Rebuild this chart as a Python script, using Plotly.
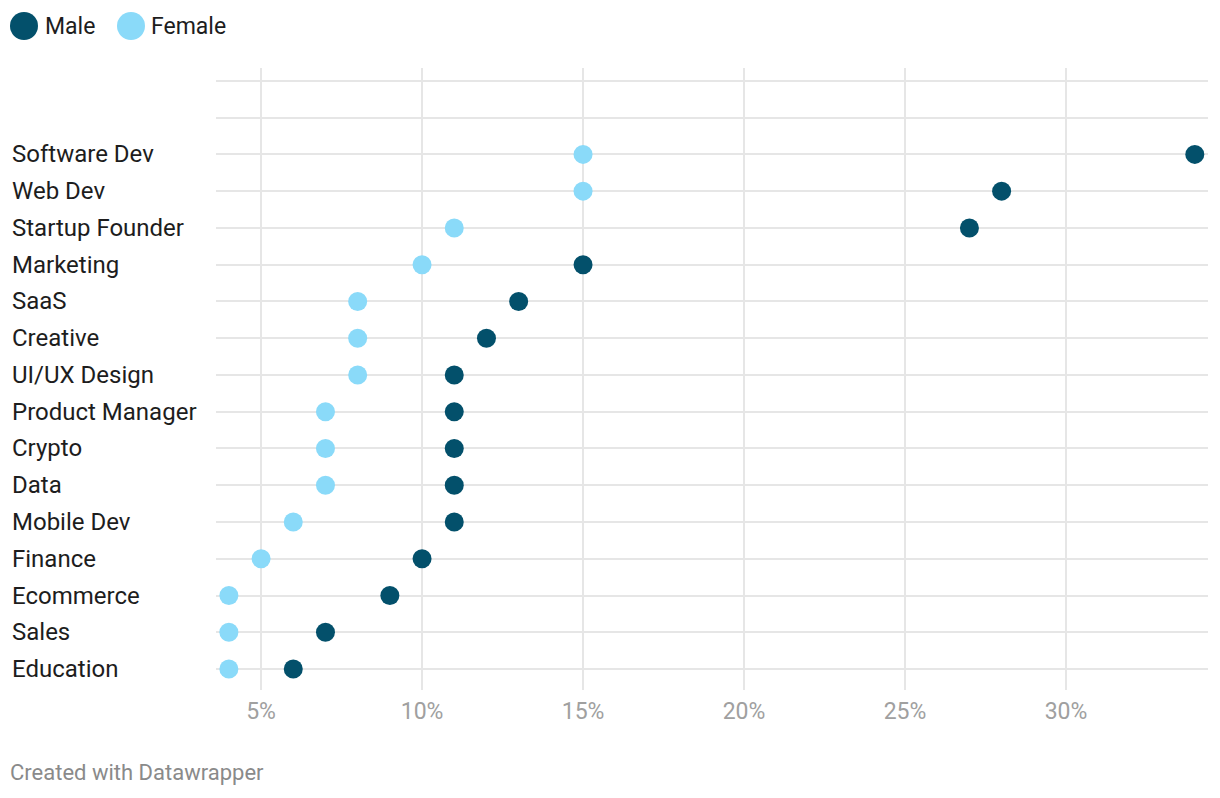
import plotly.graph_objects as go

categories = ["Software Dev", "Web Dev", "Startup Founder", "Marketing", "SaaS", "Creative",
              "UI/UX Design", "Product Manager", "Crypto", "Data", "Mobile Dev", "Finance",
              "Ecommerce", "Sales", "Education"]
male = [34, 28, 27, 15, 13, 12, 11, 11, 11, 11, 11, 10, 9, 7, 6]
female = [15, 15, 11, 10, 8, 8, 8, 7, 7, 7, 6, 5, 4, 4, 4]
x_ticks = [5, 10, 15, 20, 25, 30]
x_tick_labels = ["5%", "10%", "15%", "20%", "25%", "30%"]
series_names = ["Male", "Female"]

MALE_COLOR = "#03506b"
FEMALE_COLOR = "#8adaf9"
FONT = "Roboto"

n = len(categories)
ypos = [n - 1 - i for i in range(n)]
blank_rows = 2

OFF = 8  # page body margin
W, H = 1212, 790
m_l, m_r, m_t, m_b = 208, 12, 60, 108
pw = W - m_l - m_r
ph = H - m_t - m_b
plot_bottom_page = OFF + H - m_b


def px_to_paper_x(px):
    return (px - OFF - m_l) / pw


def py_to_paper_y(py):
    return (plot_bottom_page - py) / ph


fig = go.Figure()
fig.add_trace(go.Scatter(
    x=female, y=ypos, mode="markers", name="Female",
    marker=dict(size=19, color=FEMALE_COLOR, line=dict(width=0)),
    hovertemplate="%{text}: %{x}%<extra>Female</extra>", text=categories,
))
fig.add_trace(go.Scatter(
    x=male, y=ypos, mode="markers", name="Male",
    marker=dict(size=19, color=MALE_COLOR, line=dict(width=0)),
    hovertemplate="%{text}: %{x}%<extra>Male</extra>", text=categories,
))

for cat, yv in zip(categories, ypos):
    fig.add_annotation(
        x=px_to_paper_x(10), xref="paper", y=yv, yref="y",
        text=cat, showarrow=False, xanchor="left", yanchor="middle",
        font=dict(family=FONT, size=24, color="#1d1d1d"),
    )

# legend (custom, to match large circle swatches)
legend_items = [(series_names[0], MALE_COLOR, 10, 45), (series_names[1], FEMALE_COLOR, 117, 151)]
for name, col, cx0, tx in legend_items:
    fig.add_shape(
        type="circle", xref="paper", yref="paper",
        x0=px_to_paper_x(cx0), x1=px_to_paper_x(cx0 + 28),
        y0=py_to_paper_y(40), y1=py_to_paper_y(12),
        fillcolor=col, line=dict(width=0),
    )
    fig.add_annotation(
        x=px_to_paper_x(tx - 2), xref="paper", y=py_to_paper_y(26), yref="paper",
        text=name, showarrow=False, xanchor="left", yanchor="middle",
        font=dict(family=FONT, size=23, color="#1d1d1d"),
    )

fig.add_annotation(
    x=px_to_paper_x(8), xref="paper", y=py_to_paper_y(772), yref="paper",
    text="Created with Datawrapper", showarrow=False, xanchor="left", yanchor="middle",
    font=dict(family=FONT, size=22, color="#8a8a8a"),
)

fig.update_layout(
    width=W, height=H,
    margin=dict(l=m_l, r=m_r, t=m_t, b=m_b),
    paper_bgcolor="white", plot_bgcolor="white",
    font=dict(family=FONT, size=22, color="#1d1d1d"),
    showlegend=False,
    xaxis=dict(
        range=[3.6, 34.41], tickvals=x_ticks, ticktext=x_tick_labels,
        showgrid=True, gridcolor="#e6e6e6", gridwidth=2, zeroline=False,
        showline=False, ticks="", tickfont=dict(family=FONT, size=23, color="#a0a0a0"),
        ticklabelstandoff=5, fixedrange=True,
    ),
    yaxis=dict(
        range=[-0.57, n - 1 + blank_rows + 0.35], tickvals=list(range(n + blank_rows)),
        showticklabels=False, showgrid=True, gridcolor="#e6e6e6", gridwidth=2,
        zeroline=False, showline=False, ticks="", fixedrange=True,
    ),
)

fig.write_html("out.html")
